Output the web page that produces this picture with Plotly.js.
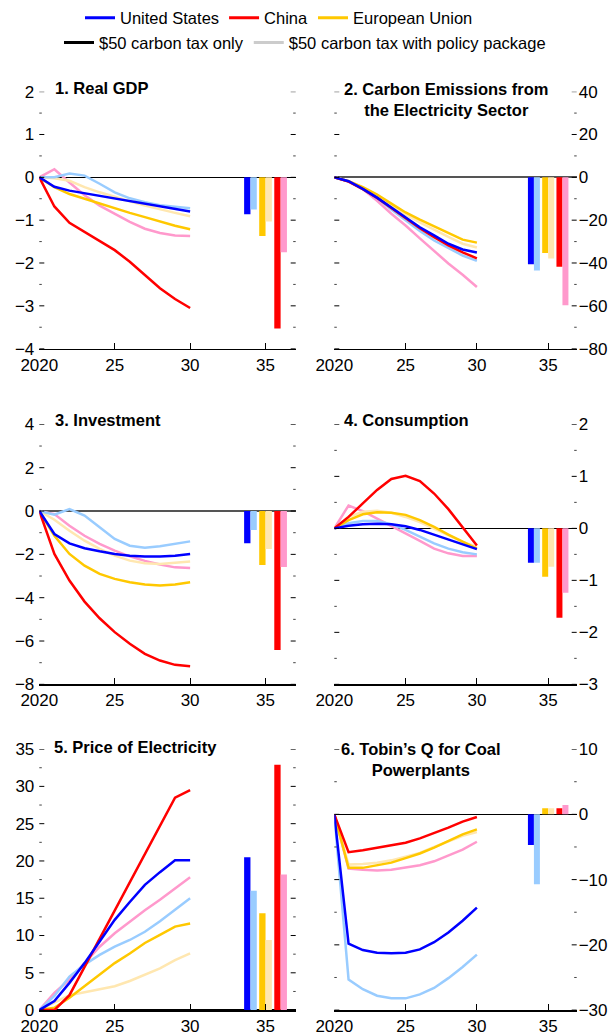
<!DOCTYPE html>
<html><head><meta charset="utf-8">
<script src="https://cdn.plot.ly/plotly-3.0.1.min.js"></script>
<style>html,body{margin:0;padding:0;background:#fff}#chart{width:611px;height:1035px}</style>
</head><body><div id="chart"></div><script>
// ---------- data ----------
const years = [2020, 2021, 2022, 2023, 2024, 2025, 2026, 2027, 2028, 2029, 2030];
const barYears = [2034, 2035, 2036];           // US, EU, China bar groups
const tickYears = [2020, 2025, 2030, 2035];
const tickYearLabels = ['2020', '25', '30', '35'];

const countryNames = ['United States', 'China', 'European Union'];
const scenarioNames = ['$50 carbon tax only', '$50 carbon tax with policy package'];

const panelTitles = [
  '1. Real GDP',
  '2. Carbon Emissions from<br>the Electricity Sector',
  '3. Investment',
  '4. Consumption',
  '5. Price of Electricity',
  '6. Tobin\u2019s Q for Coal<br>Powerplants'
];

// Panel 1: Real GDP
const gdpUSTax = [0, -0.22, -0.31, -0.37, -0.43, -0.49, -0.56, -0.62, -0.68, -0.74, -0.80];
const gdpUSPkg = [0, 0.00, 0.09, 0.04, -0.15, -0.35, -0.49, -0.58, -0.65, -0.69, -0.72];
const gdpCNTax = [0, -0.68, -1.06, -1.27, -1.47, -1.70, -1.97, -2.28, -2.59, -2.84, -3.05];
const gdpCNPkg = [0, 0.19, -0.12, -0.42, -0.66, -0.86, -1.04, -1.20, -1.30, -1.36, -1.37];
const gdpEUTax = [0, -0.23, -0.39, -0.50, -0.62, -0.72, -0.83, -0.93, -1.03, -1.13, -1.21];
const gdpEUPkg = [0, -0.02, -0.08, -0.23, -0.35, -0.46, -0.56, -0.66, -0.75, -0.83, -0.91];
const gdpBarsTax = [-0.86, -1.37, -3.53];   // US, EU, China
const gdpBarsPkg = [-0.75, -1.03, -1.75];

// Panel 2: Carbon emissions from electricity
const co2USTax = [0, -1.8, -5.4, -9.5, -14.1, -18.7, -23.3, -27.1, -31.0, -33.7, -35.1];
const co2USPkg = [0, -1.8, -5.5, -9.8, -15.0, -20.0, -25.0, -29.5, -33.0, -36.5, -39.0];
const co2CNTax = [0, -2.0, -5.5, -9.6, -14.3, -19.0, -23.8, -28.0, -31.8, -35.0, -37.8];
const co2CNPkg = [0, -1.8, -5.5, -11.0, -17.0, -22.5, -28.5, -34.5, -40.2, -45.5, -51.2];
const co2EUTax = [0, -1.8, -4.6, -8.0, -12.3, -16.4, -19.8, -23.0, -26.2, -29.1, -30.5];
const co2EUPkg = [0, -1.8, -4.8, -8.6, -13.0, -17.3, -21.0, -24.5, -27.8, -31.0, -32.8];
const co2BarsTax = [-40.6, -35.3, -41.7];
const co2BarsPkg = [-43.5, -37.9, -59.7];

// Panel 3: Investment
const invUSTax = [0, -1.06, -1.49, -1.72, -1.86, -1.98, -2.06, -2.10, -2.10, -2.06, -1.98];
const invUSPkg = [0, -0.17, 0.09, -0.21, -0.75, -1.29, -1.60, -1.69, -1.63, -1.52, -1.40];
const invCNTax = [0, -1.98, -3.21, -4.18, -4.95, -5.59, -6.13, -6.59, -6.90, -7.10, -7.16];
const invCNPkg = [0, -0.14, -0.68, -1.14, -1.52, -1.83, -2.09, -2.30, -2.47, -2.60, -2.63];
const invEUTax = [0, -1.14, -1.98, -2.52, -2.90, -3.13, -3.29, -3.39, -3.44, -3.39, -3.29];
const invEUPkg = [0, -0.40, -0.91, -1.37, -1.75, -2.06, -2.29, -2.41, -2.44, -2.40, -2.33];
const invBarsTax = [-1.49, -2.49, -6.41];
const invBarsPkg = [-0.88, -1.75, -2.58];

// Panel 4: Consumption
const conUSTax = [0, 0.05, 0.08, 0.09, 0.08, 0.04, -0.03, -0.12, -0.21, -0.31, -0.40];
const conUSPkg = [0, 0.10, 0.14, 0.14, 0.08, -0.03, -0.16, -0.29, -0.39, -0.46, -0.50];
const conCNTax = [0, 0.22, 0.48, 0.74, 0.95, 1.01, 0.91, 0.67, 0.37, 0.03, -0.33];
const conCNPkg = [0, 0.44, 0.33, 0.19, 0.05, -0.10, -0.24, -0.39, -0.48, -0.53, -0.53];
const conEUTax = [0, 0.16, 0.27, 0.31, 0.30, 0.26, 0.16, 0.03, -0.12, -0.26, -0.39];
const conEUPkg = [0, 0.22, 0.32, 0.34, 0.30, 0.22, 0.12, -0.01, -0.14, -0.26, -0.35];
const conBarsTax = [-0.66, -0.93, -1.72];
const conBarsPkg = [-0.66, -0.74, -1.24];

// Panel 5: Price of electricity
const priUSTax = [0, 1.2, 3.65, 6.3, 9.2, 12.1, 14.5, 16.8, 18.5, 20.1, 20.1];
const priUSPkg = [0, 1.9, 4.5, 6.1, 7.4, 8.5, 9.4, 10.5, 11.9, 13.4, 15.0];
const priCNTax = [0, 0.0, 2.0, 5.8, 9.6, 13.4, 17.2, 21.0, 24.8, 28.5, 29.5];
const priCNPkg = [0, 2.3, 4.1, 6.3, 8.5, 10.3, 11.9, 13.4, 14.8, 16.3, 17.8];
const priEUTax = [0, 0.3, 1.65, 3.2, 4.8, 6.3, 7.6, 9.0, 10.1, 11.2, 11.6];
const priEUPkg = [0, 1.0, 2.0, 2.4, 2.75, 3.2, 3.9, 4.8, 5.6, 6.7, 7.6];
const priBarsTax = [20.5, 13.0, 32.9];
const priBarsPkg = [16.0, 9.4, 18.2];

// Panel 6: Tobin's Q for coal powerplants
const tqUSTax = [0, -19.8, -20.8, -21.2, -21.3, -21.2, -20.7, -19.6, -18.1, -16.3, -14.3];
const tqUSPkg = [0, -25.3, -26.8, -27.8, -28.2, -28.2, -27.6, -26.6, -25.1, -23.4, -21.5];
const tqCNTax = [0, -5.8, -5.5, -5.1, -4.75, -4.34, -3.68, -2.91, -2.04, -1.12, -0.41];
const tqCNPkg = [0, -8.3, -8.5, -8.6, -8.5, -8.2, -7.8, -7.2, -6.3, -5.4, -4.2];
const tqEUTax = [0, -8.2, -8.2, -7.8, -7.4, -6.7, -6.0, -5.1, -4.1, -3.06, -2.3];
const tqEUPkg = [0, -7.7, -7.6, -7.4, -7.05, -6.5, -5.9, -5.0, -4.1, -3.3, -2.7];
const tqBarsTax = [-4.7, 0.92, 0.92];
const tqBarsPkg = [-10.7, 0.92, 1.43];

const yRanges = [[-4, 2], [-80, 40], [-8, 4], [-3, 2], [0, 35], [-30, 10]];
const yDticks = [1, 20, 2, 1, 5, 10];

// ---------- styling ----------
const F = '"Liberation Sans", Arial, sans-serif';
const C = {us: '#0000ff', cn: '#ff0000', eu: '#ffc800', usL: '#99ccff', cnL: '#ff99cc', euL: '#ffe7b0'};

const panels = [
  {tax: [gdpUSTax, gdpCNTax, gdpEUTax], pkg: [gdpUSPkg, gdpCNPkg, gdpEUPkg], bt: gdpBarsTax, bp: gdpBarsPkg},
  {tax: [co2USTax, co2CNTax, co2EUTax], pkg: [co2USPkg, co2CNPkg, co2EUPkg], bt: co2BarsTax, bp: co2BarsPkg},
  {tax: [invUSTax, invCNTax, invEUTax], pkg: [invUSPkg, invCNPkg, invEUPkg], bt: invBarsTax, bp: invBarsPkg},
  {tax: [conUSTax, conCNTax, conEUTax], pkg: [conUSPkg, conCNPkg, conEUPkg], bt: conBarsTax, bp: conBarsPkg},
  {tax: [priUSTax, priCNTax, priEUTax], pkg: [priUSPkg, priCNPkg, priEUPkg], bt: priBarsTax, bp: priBarsPkg},
  {tax: [tqUSTax, tqCNTax, tqEUTax], pkg: [tqUSPkg, tqCNPkg, tqEUPkg], bt: tqBarsTax, bp: tqBarsPkg}
];

const W = 611, H = 1035;
const colX = [[39.3, 295.7], [334.3, 576.7]];
const rowY = [[88, 346], [422, 683], [748, 1010]];

const traces = [];
const darkCols = [C.us, C.cn, C.eu];
const lightCols = [C.usL, C.cnL, C.euL];
panels.forEach((p, i) => {
  const xa = 'x' + (i + 1), ya = 'y' + (i + 1);
  [1, 2, 0].forEach(k => traces.push({type: 'scatter', mode: 'lines', x: years, y: p.pkg[k], xaxis: xa, yaxis: ya,
    line: {color: lightCols[k], width: 2.5}, showlegend: false, hoverinfo: 'skip'}));
  [2, 1, 0].forEach(k => traces.push({type: 'scatter', mode: 'lines', x: years, y: p.tax[k], xaxis: xa, yaxis: ya,
    line: {color: darkCols[k], width: 2.5}, showlegend: false, hoverinfo: 'skip'}));
  traces.push({type: 'bar', x: barYears, y: p.bt, xaxis: xa, yaxis: ya,
    marker: {color: [C.us, C.eu, C.cn], line: {width: 0}}, showlegend: false, hoverinfo: 'skip'});
  traces.push({type: 'bar', x: barYears, y: p.bp, xaxis: xa, yaxis: ya,
    marker: {color: [C.usL, C.euL, C.cnL], line: {width: 0}}, showlegend: false, hoverinfo: 'skip'});
});

// legend entries
[[countryNames[0], C.us], [countryNames[1], C.cn], [countryNames[2], C.eu]].forEach(([n, c]) =>
  traces.push({type: 'scatter', mode: 'lines', x: [null], y: [null], name: n, line: {color: c, width: 3}, legend: 'legend', hoverinfo: 'skip'}));
[[scenarioNames[0], '#000000'], [scenarioNames[1], '#cccccc']].forEach(([n, c]) =>
  traces.push({type: 'scatter', mode: 'lines', x: [null], y: [null], name: n, line: {color: c, width: 3}, legend: 'legend2', hoverinfo: 'skip'}));

const tf = {family: F, size: 17, color: '#000'};
const layout = {
  width: W, height: H, margin: {l: 0, r: 0, t: 0, b: 0},
  paper_bgcolor: '#fff', plot_bgcolor: '#fff',
  barmode: 'group', bargap: 0.16, bargroupgap: 0,
  font: {family: F, color: '#000'},
  showlegend: true,
  legend: {orientation: 'h', x: 80 / W, xanchor: 'left', y: 1 - 14 / H, yanchor: 'middle',
    font: {family: F, size: 16.5, color: '#000'}, bgcolor: 'rgba(0,0,0,0)', traceorder: 'normal'},
  legend2: {orientation: 'h', x: 59 / W, xanchor: 'left', y: 1 - 39 / H, yanchor: 'middle',
    font: {family: F, size: 16.5, color: '#000'}, bgcolor: 'rgba(0,0,0,0)', traceorder: 'normal'},
  annotations: [],
  shapes: []
};

for (let i = 0; i < 6; i++) {
  const col = i % 2, row = Math.floor(i / 2);
  const sfx = i === 0 ? '' : String(i + 1);
  layout['xaxis' + sfx] = {
    domain: [colX[col][0] / W, colX[col][1] / W], anchor: 'y' + (i + 1),
    range: [2020, 2037], tickmode: 'array', tickvals: tickYears, ticktext: tickYearLabels,
    ticks: 'inside', ticklen: 6, tickwidth: 1.2, tickcolor: '#000',
    showline: true, linecolor: '#000', linewidth: 1.5, showgrid: false, zeroline: false,
    tickfont: tf, fixedrange: true
  };
  layout['yaxis' + sfx] = {
    domain: [1 - rowY[row][1] / H, 1 - rowY[row][0] / H], anchor: 'x' + (i + 1),
    range: yRanges[i], dtick: yDticks[i], tick0: 0, side: col === 0 ? 'left' : 'right',
    ticks: '', showline: false, showgrid: false, ticklabelstandoff: col === 0 ? 4 : 1,
    zeroline: true, zerolinecolor: (i === 1 || i === 2) ? '#555' : '#000', zerolinewidth: (i === 1 || i === 2) ? 2 : 1.5,
    tickfont: tf, fixedrange: true
  };
  // tick marks on both sides, drawn inside the plot area
  const pw = colX[col][1] - colX[col][0];
  const dt = yDticks[i], r = yRanges[i];
  for (let v = r[0]; v <= r[1] + 1e-9; v += dt / 2) {
    const major = Math.abs(Math.round(v / dt) * dt - v) < 1e-9;
    const len = (major ? 5 : 2.5) / pw;
    [[0, len], [1 - len, 1]].forEach(([a, b]) => layout.shapes.push({
      type: 'line', xref: 'x' + (i + 1) + ' domain', yref: 'y' + (i + 1),
      x0: a, x1: b, y0: v, y1: v, line: {color: major ? '#000' : '#444', width: 1}
    }));
  }
}

// panel titles
const titlePos = [
  {x: 53, y: 84, a: 'left'}, {x: 445.5, y: 95.5, a: 'center'},
  {x: 53, y: 418, a: 'left'}, {x: 341.7, y: 418, a: 'left'},
  {x: 52, y: 746, a: 'left'}, {x: 421.3, y: 758, a: 'center'}
];
panelTitles.forEach((t, i) => layout.annotations.push({
  xref: 'paper', yref: 'paper', x: titlePos[i].x / W, y: 1 - titlePos[i].y / H,
  xanchor: titlePos[i].a, yanchor: 'middle', align: 'center', showarrow: false,
  text: '<b>' + t + '</b>', font: {family: F, size: 16.5, color: '#000'}
}));

Plotly.newPlot('chart', traces, layout, {staticPlot: true, displayModeBar: false});
</script></body></html>
